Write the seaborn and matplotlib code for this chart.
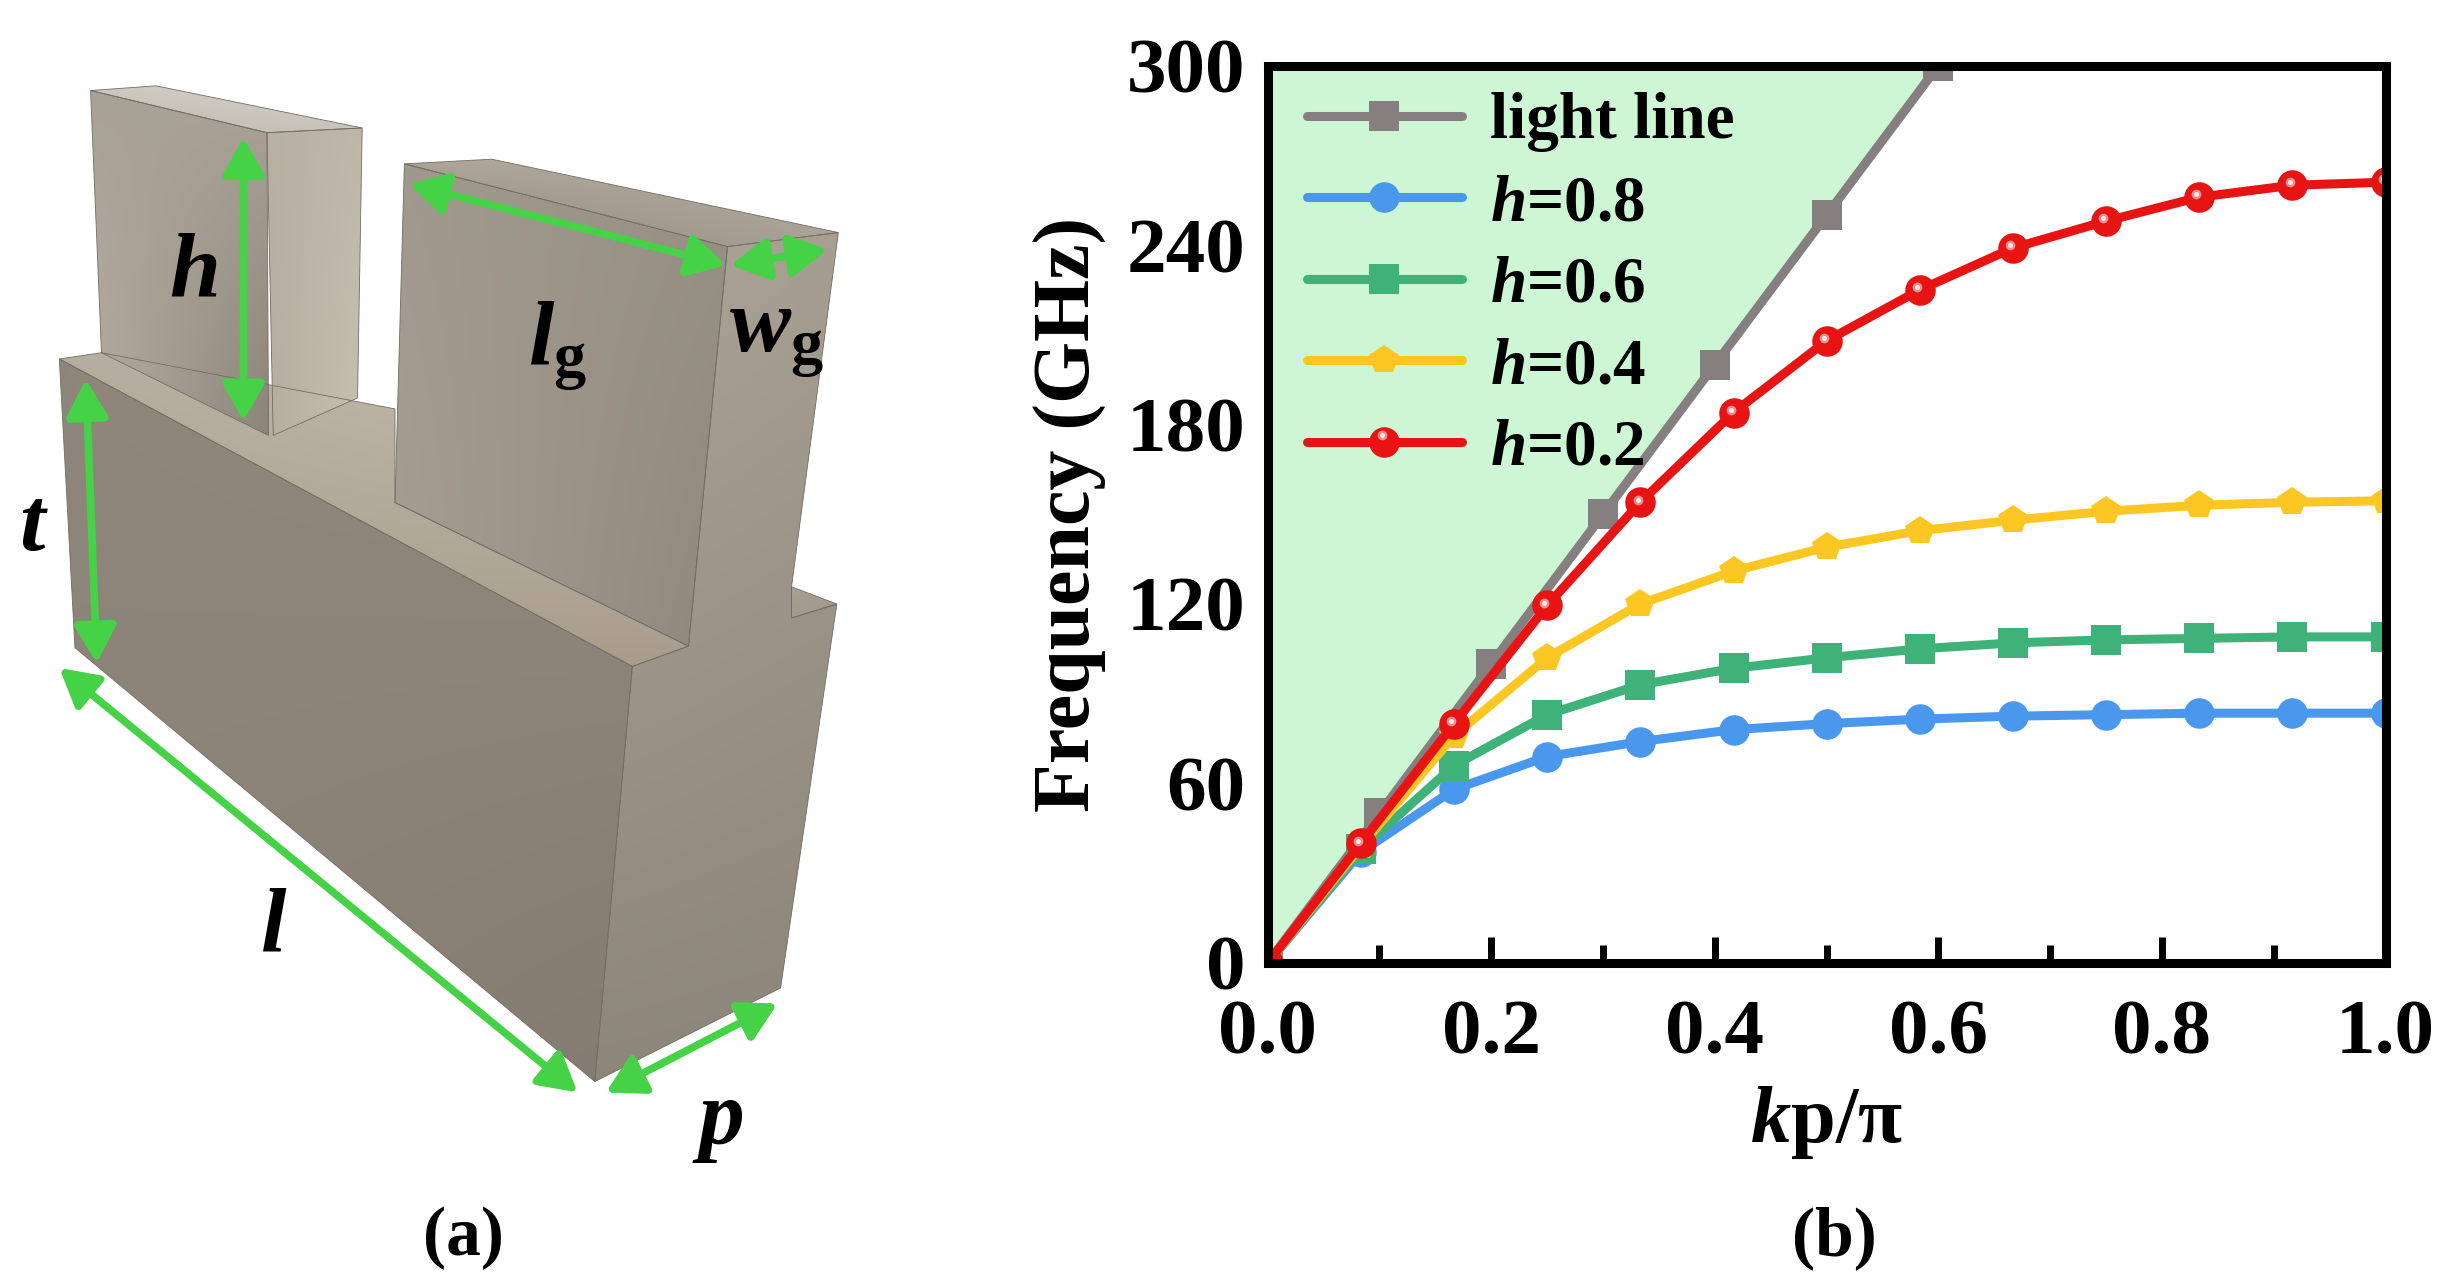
import numpy as np
import pandas as pd
import seaborn as sns
import matplotlib.pyplot as plt
from matplotlib.colors import to_rgb
from matplotlib.patches import Polygon
from matplotlib.ticker import MultipleLocator
from matplotlib.transforms import offset_copy

# === DATA ===
k_light = [0.0, 0.1, 0.2, 0.3, 0.4, 0.5, 0.6]
f_light = [0, 50, 100, 150, 200, 250, 300]
k_modes = [0.0, 0.0833, 0.1667, 0.25, 0.3333, 0.4167, 0.5, 0.5833, 0.6667, 0.75, 0.8333, 0.9167, 1.0]
f_h08 = [0, 37, 58, 69, 74, 78, 80, 81.5, 82.5, 83, 83.5, 83.5, 83.5]
f_h06 = [0, 38, 66, 83, 93, 98.5, 102, 105, 107, 108, 108.5, 109, 109]
f_h04 = [0, 39, 76, 102, 120, 131, 139, 144.5, 148, 151, 153, 154, 154.5]
f_h02 = [0, 40, 80, 119.5, 154, 184, 208, 225, 239, 248, 256, 260, 261]
x_ticks = [0.0, 0.2, 0.4, 0.6, 0.8, 1.0]
y_ticks = [0, 60, 120, 180, 240, 300]

SERIF = "Liberation Serif"
GREEN = "#46d246"

sns.set_theme(style="ticks")
plt.rcParams["font.family"] = [SERIF, "DejaVu Serif"]
plt.rcParams["font.weight"] = "bold"
plt.rcParams["text.color"] = "black"
plt.rcParams["axes.labelcolor"] = "black"
plt.rcParams["xtick.color"] = "black"
plt.rcParams["ytick.color"] = "black"
plt.rcParams["mathtext.fontset"] = "custom"
plt.rcParams["mathtext.rm"] = "Liberation Serif:bold"
plt.rcParams["mathtext.it"] = "Liberation Serif:italic:bold"
plt.rcParams["mathtext.bf"] = "Liberation Serif:bold"

fig = plt.figure(figsize=(24.48, 12.86), dpi=100, facecolor="white")

# === Panel (a): drawn in the coordinates of the 1568x824 view ===
bg = fig.add_axes([0, 0, 1, 1])
bg.axis("off")


def face(points, c_tl, c_tr, c_bl, c_br):
    xs = [p[0] for p in points]
    ys = [p[1] for p in points]
    t = np.linspace(0, 1, 48)[:, None, None]
    u = np.linspace(0, 1, 48)[None, :, None]
    top = (1 - u) * np.array(to_rgb(c_tl)) + u * np.array(to_rgb(c_tr))
    bot = (1 - u) * np.array(to_rgb(c_bl)) + u * np.array(to_rgb(c_br))
    im = bg.imshow((1 - t) * top + t * bot, extent=(min(xs), max(xs), max(ys), min(ys)),
                   aspect="auto", interpolation="bilinear", zorder=1)
    edge = Polygon(points, closed=True, facecolor="none", edgecolor="#736c62", lw=0.6, zorder=2)
    bg.add_patch(edge)
    im.set_clip_path(Polygon(points, closed=True, transform=bg.transData))


# base and right tooth side are one surface
face([(507, 376), (536, 387), (507, 396)], "#a89f93", "#a39a8e", "#a39a8e", "#a39a8e")
face([(466, 158), (537, 149), (507, 376), (507, 396), (536, 387), (500, 633), (381, 693), (405, 427), (441, 414)],
     "#aea599", "#a79e92", "#8d867b", "#8b8479")
face([(38, 230), (65, 226), (253, 262), (253, 322), (441, 414), (405, 427)], "#b5ad9f", "#c8bfb1", "#a89e8d", "#a89d8c")
face([(38, 230), (405, 427), (381, 693), (48, 415)], "#8e867b", "#928a7f", "#8b8378", "#847c71")
# left tooth
face([(58, 58), (100, 55), (232, 82), (171, 85)], "#cdc9c0", "#d6d2ca", "#bfbab0", "#c9c4ba")
face([(171, 85), (232, 82), (229, 255), (175, 279)], "#b9b0a4", "#c0b7ab", "#b6ad9f", "#c8bfb0")
face([(58, 58), (171, 85), (172, 279), (65, 226)], "#a8a196", "#aba398", "#b5ad9f", "#8c8479")
# right tooth
face([(259, 105), (315, 102), (537, 149), (466, 158)], "#ada59a", "#b4aca1", "#8e877d", "#aaa297")
face([(259, 105), (466, 158), (441, 414), (253, 322)], "#a0998e", "#989186", "#a89e90", "#8f887d")

bg.set_xlim(0, 1568)
bg.set_ylim(824, 0)

arrows = [((156, 88), (156, 270)), ((262, 118), (465, 170)), ((468, 170), (530, 160)),
          ((55, 243), (62, 425)), ((38, 428), (370, 700)), ((388, 700), (498, 643))]
for start, end in arrows:
    bg.annotate("", xy=end, xytext=start, zorder=5,
                arrowprops=dict(arrowstyle="<|-|>,head_length=0.75,head_width=0.42", color=GREEN,
                                lw=5.5, shrinkA=0, shrinkB=0, mutation_scale=30))

labels = [(124, 175, "$h$"), (357, 222, "$l_{\\mathrm{g}}$"), (497, 218, "$w_{\\mathrm{g}}$"),
          (22, 338, "$t$"), (175, 595, "$l$"), (460, 720, "$p$")]
for lx, ly, txt in labels:
    bg.text(lx, ly, txt, fontsize=66, ha="center", va="center", zorder=6)
bg.text(297, 793, "(a)", fontsize=50, ha="center", va="center")
bg.text(1175, 793, "(b)", fontsize=50, ha="center", va="center")

# === Panel (b) ===
ax = fig.add_axes([812 / 1568, 1 - 617 / 824, (1528 - 812) / 1568, (617 - 42) / 824])
ax.patch.set_alpha(0)
ax.fill_between(k_light, f_light, 300, color="#ccf6d4", lw=0, zorder=1)

light = pd.DataFrame({"k": k_light, "f": f_light})
modes = pd.DataFrame({"k": k_modes, "h08": f_h08, "h06": f_h06, "h04": f_h04, "h02": f_h02})
style = dict(lw=6.5, markersize=22, markeredgewidth=0, zorder=3)
sns.lineplot(data=light, x="k", y="f", ax=ax, color="#857f7f", marker="s", label="light line", **style)
sns.lineplot(data=modes, x="k", y="h08", ax=ax, color="#4a98ee", marker="o", label="$h$=0.8", **style)
sns.lineplot(data=modes, x="k", y="h06", ax=ax, color="#3fb27a", marker="s", label="$h$=0.6", **style)
sns.lineplot(data=modes, x="k", y="h04", ax=ax, color="#fdc723", marker="p", label="$h$=0.4", **style)
sns.lineplot(data=modes, x="k", y="h02", ax=ax, color="#e81414", marker="o", label="$h$=0.2", **style)

ax.set_xlim(0, 1)
ax.set_ylim(0, 300)
ax.set_xticks(x_ticks)
ax.set_yticks(y_ticks)
ax.xaxis.set_minor_locator(MultipleLocator(0.1))
ax.yaxis.set_minor_locator(MultipleLocator(30))
ax.tick_params(which="major", direction="in", length=19, width=5, labelsize=57)
ax.tick_params(which="minor", direction="in", length=13, width=5)
ax.tick_params(axis="x", which="major", pad=26)
ax.tick_params(axis="y", which="major", pad=16)
ax.set_xlabel("$k$p/\u03c0", fontsize=58, fontweight="bold", labelpad=10)
ax.set_ylabel("Frequency (GHz)", fontsize=57.5, fontweight="bold", labelpad=14)
for spine in ax.spines.values():
    spine.set_linewidth(6.5)
    spine.set_color("black")
    spine.set_zorder(6)

leg = ax.legend(loc="upper left", frameon=False, fontsize=47, handlelength=2.37, handletextpad=0.43,
                labelspacing=0.33, borderpad=0, borderaxespad=0, bbox_to_anchor=(0.035, 0.97))
leg.set_zorder(5)

# highlight on the red balls, also the one in the legend
shine = offset_copy(ax.transData, fig=fig, x=-2, y=2, units="points")
for ms, col in [(7, "#f08f8f"), (3.6, "#fde8e8")]:
    ax.plot(k_modes[1:], f_h02[1:], ls="none", marker="o", ms=ms, mfc=col, mec="none", transform=shine, zorder=4)
    ax.plot([885], [279], ls="none", marker="o", ms=ms, mfc=col, mec="none", transform=bg.transData,
            clip_on=False, zorder=7)
ax.set_xlim(0, 1)
ax.set_ylim(0, 300)

plt.savefig("out.png", dpi=100)
plt.close()
